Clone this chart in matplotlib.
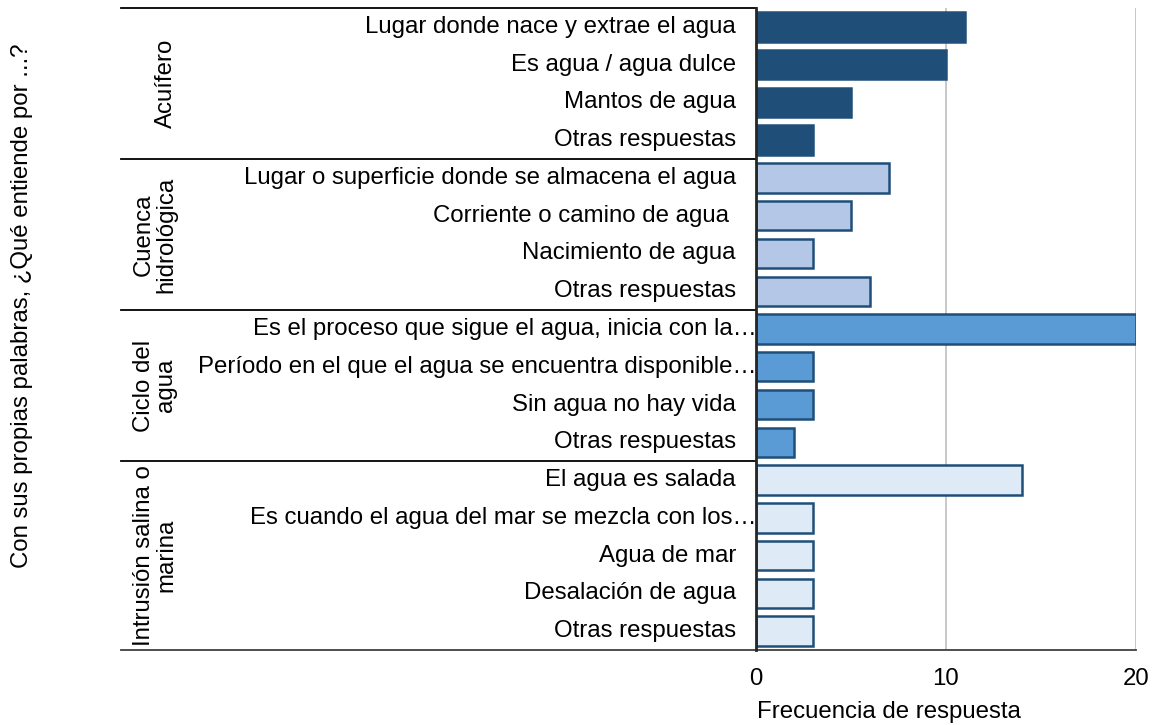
import matplotlib
matplotlib.use("Agg")
import matplotlib.pyplot as plt
from matplotlib.lines import Line2D

plt.rcParams['font.family'] = ['Liberation Sans', 'DejaVu Sans']

groups = ["Acuífero", "Cuenca\nhidrológica", "Ciclo del\nagua", "Intrusión salina o\nmarina"]
categories = [
    ["Lugar donde nace y extrae el agua", "Es agua / agua dulce", "Mantos de agua", "Otras respuestas"],
    ["Lugar o superficie donde se almacena el agua", "Corriente o camino de agua ", "Nacimiento de agua", "Otras respuestas"],
    ["Es el proceso que sigue el agua, inicia con la…", "Período en el que el agua se encuentra disponible…",
     "Sin agua no hay vida", "Otras respuestas"],
    ["El agua es salada", "Es cuando el agua del mar se mezcla con los…", "Agua de mar",
     "Desalación de agua", "Otras respuestas"],
]
values = [
    [11, 10, 5, 3],
    [7, 5, 3, 6],
    [20, 3, 3, 2],
    [14, 3, 3, 3, 3],
]
xticks = [0, 10, 20]
xlabel = "Frecuencia de respuesta"
ylabel = "Con sus propias palabras, ¿Qué entiende por ...?"

face_colors = ["#1F4E79", "#B4C7E7", "#5B9BD5", "#DEEBF7"]
edge_colors = ["#1F4E79", "#1F4E79", "#1F4E79", "#1F4E79"]

W, H = 1154, 725
fig = plt.figure(figsize=(W / 100, H / 100), dpi=100)
ax_l, ax_r, ax_t, ax_b = 756, 1136, 8, 650
ax = fig.add_axes([ax_l / W, 1 - ax_b / H, (ax_r - ax_l) / W, (ax_b - ax_t) / H])

FS = 17.3
n_total = sum(len(c) for c in categories)
ax.set_xlim(0, 20)
ax.set_ylim(n_total - 0.5, -0.5)

ax_w = ax_r - ax_l
def px2ax(px):
    return (px - ax_l) / ax_w

ytr = ax.get_yaxis_transform()
row = 0
boundaries = [-0.5]
for gi, (g, cats, vals) in enumerate(zip(groups, categories, values)):
    ys = list(range(row, row + len(cats)))
    ax.barh(ys, vals, height=0.78, color=face_colors[gi], edgecolor=edge_colors[gi],
            linewidth=1.8, zorder=3)
    for y, c in zip(ys, cats):
        if c.endswith("…"):
            xa = px2ax(757)
        else:
            xa = px2ax(736)
        ax.text(xa, y, c, transform=ytr, ha='right', va='center', fontsize=FS, clip_on=False)
    gc = row + (len(cats) - 1) / 2
    ax.text(px2ax(177), gc, g, transform=ytr, ha='right', va='center', rotation=90,
            multialignment='center', fontsize=FS, linespacing=1.0, clip_on=False)
    row += len(cats)
    boundaries.append(row - 0.5)

for i, b in enumerate(boundaries):
    x_end = 1.0 if i == len(boundaries) - 1 else 0.0
    color = "#404040" if i == len(boundaries) - 1 else "black"
    ax.add_line(Line2D([px2ax(121), x_end], [b, b], transform=ytr, color=color,
                       linewidth=1.3, clip_on=False, zorder=5))

for s in ['top', 'right', 'bottom']:
    ax.spines[s].set_visible(False)
ax.spines['left'].set_color("#262626")
ax.spines['left'].set_linewidth(2)
ax.spines['left'].set_zorder(6)

ax.set_yticks([])
ax.set_xticks(xticks)
ax.set_xticklabels([str(t) for t in xticks], fontsize=FS)
ax.tick_params(axis='x', length=0, pad=13)
ax.grid(axis='x', color="#BFBFBF", linewidth=1.2, zorder=0)
ax.set_axisbelow(True)

fig.text(889 / W, 1 - 712 / H, xlabel, ha='center', va='center', fontsize=FS)
fig.text(22 / W, 1 - 306 / H, ylabel, ha='center', va='center', rotation=90, fontsize=FS)

fig.savefig("out.png", dpi=100)
